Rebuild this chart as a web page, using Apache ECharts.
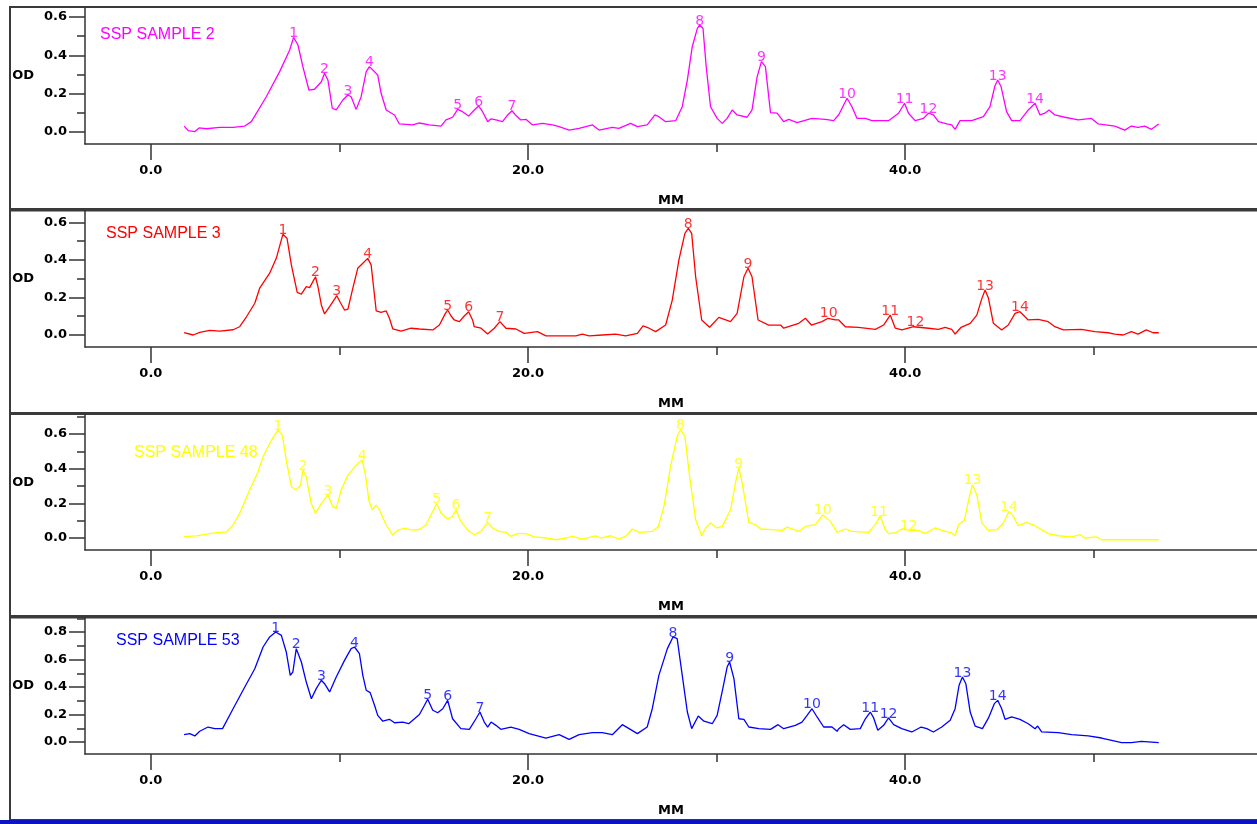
<!DOCTYPE html>
<html>
<head>
<meta charset="utf-8">
<script src="https://cdn.jsdelivr.net/npm/echarts/dist/echarts.min.js"></script>
<style>
html,body{margin:0;padding:0;background:#fff;}
#chart{width:1257px;height:824px;}
</style>
</head>
<body>
<div id="chart"></div>
<script>
// ---------- DATA (MM, OD) ----------
const sampleNames = ['SSP SAMPLE 2', 'SSP SAMPLE 3', 'SSP SAMPLE 48', 'SSP SAMPLE 53'];
const peakLabels = ['1','2','3','4','5','6','7','8','9','10','11','12','13','14'];
const xTickValues = [0, 20, 40];
const xMinorTickValues = [10, 30, 50];

const sample2 = [[1.76,0.031],[1.98,0.007],[2.33,0.002],[2.56,0.021],[2.95,0.017],[3.65,0.024],[4.36,0.024],[4.98,0.031],[5.33,0.054],[6.12,0.184],[6.83,0.315],[7.36,0.428],[7.57,0.494],[7.80,0.454],[8.06,0.341],[8.38,0.219],[8.68,0.223],[9.04,0.262],[9.21,0.306],[9.39,0.271],[9.62,0.124],[9.83,0.115],[10.18,0.167],[10.45,0.193],[10.62,0.184],[10.89,0.118],[11.15,0.184],[11.42,0.315],[11.59,0.341],[12.03,0.297],[12.21,0.202],[12.48,0.115],[12.92,0.089],[13.18,0.042],[13.89,0.037],[14.24,0.047],[14.77,0.037],[15.39,0.031],[15.65,0.063],[16.00,0.077],[16.27,0.118],[16.53,0.106],[16.85,0.083],[17.15,0.115],[17.38,0.136],[17.59,0.106],[17.86,0.054],[18.04,0.069],[18.30,0.063],[18.65,0.054],[18.92,0.089],[19.15,0.111],[19.39,0.083],[19.62,0.063],[19.89,0.066],[20.24,0.037],[20.77,0.045],[21.30,0.037],[21.65,0.028],[22.18,0.010],[22.71,0.019],[23.42,0.037],[23.77,0.010],[24.47,0.024],[24.82,0.019],[25.44,0.045],[25.80,0.028],[26.32,0.037],[26.73,0.089],[26.94,0.080],[27.30,0.054],[27.83,0.059],[28.18,0.132],[28.45,0.271],[28.71,0.445],[28.98,0.541],[29.10,0.558],[29.28,0.541],[29.45,0.341],[29.68,0.132],[30.03,0.071],[30.30,0.045],[30.56,0.071],[30.83,0.115],[31.09,0.089],[31.62,0.077],[31.88,0.115],[32.15,0.288],[32.38,0.367],[32.59,0.341],[32.86,0.101],[33.21,0.098],[33.56,0.054],[33.83,0.066],[34.27,0.049],[35.06,0.071],[35.77,0.066],[36.21,0.059],[36.48,0.090],[36.92,0.176],[37.18,0.132],[37.45,0.071],[37.89,0.071],[38.24,0.059],[39.12,0.059],[39.65,0.098],[39.97,0.150],[40.18,0.098],[40.53,0.059],[40.97,0.071],[41.24,0.098],[41.50,0.089],[41.77,0.054],[42.21,0.042],[42.47,0.037],[42.65,0.014],[42.91,0.059],[43.53,0.059],[44.15,0.080],[44.50,0.132],[44.76,0.240],[44.91,0.271],[45.09,0.236],[45.38,0.106],[45.65,0.059],[46.09,0.059],[46.53,0.115],[46.89,0.150],[47.15,0.089],[47.41,0.098],[47.63,0.115],[47.94,0.089],[48.47,0.077],[49.18,0.063],[49.88,0.071],[50.24,0.042],[51.12,0.031],[51.65,0.010],[52.00,0.031],[52.35,0.024],[52.71,0.031],[53.06,0.014],[53.45,0.042]];

const sample3 = [[1.76,0.012],[2.24,0.000],[2.59,0.014],[3.12,0.025],[3.65,0.021],[4.36,0.028],[4.71,0.044],[5.07,0.097],[5.51,0.169],[5.77,0.249],[6.30,0.329],[6.65,0.408],[6.92,0.506],[7.00,0.536],[7.22,0.515],[7.45,0.373],[7.76,0.227],[7.98,0.217],[8.24,0.257],[8.42,0.252],[8.59,0.284],[8.73,0.310],[8.86,0.257],[9.04,0.160],[9.21,0.112],[9.48,0.151],[9.86,0.209],[10.04,0.174],[10.27,0.133],[10.45,0.138],[10.71,0.249],[10.97,0.355],[11.24,0.382],[11.50,0.408],[11.68,0.373],[11.95,0.128],[12.21,0.121],[12.48,0.128],[12.65,0.089],[12.83,0.032],[13.27,0.021],[13.80,0.036],[14.24,0.032],[14.95,0.027],[15.30,0.053],[15.62,0.115],[15.74,0.133],[15.92,0.101],[16.09,0.080],[16.36,0.071],[16.62,0.101],[16.85,0.124],[17.06,0.080],[17.15,0.044],[17.51,0.036],[17.86,0.005],[18.21,0.036],[18.51,0.071],[18.83,0.036],[19.36,0.032],[19.80,0.009],[20.50,0.018],[20.95,-0.005],[21.65,-0.005],[22.54,-0.005],[22.88,0.005],[23.24,-0.005],[23.94,0.000],[24.65,0.005],[25.18,-0.005],[25.80,0.009],[26.10,0.048],[26.42,0.036],[26.77,0.018],[27.30,0.053],[27.65,0.186],[28.00,0.399],[28.32,0.541],[28.50,0.568],[28.68,0.541],[28.89,0.310],[29.21,0.080],[29.63,0.041],[30.12,0.094],[30.74,0.071],[31.09,0.115],[31.45,0.310],[31.67,0.355],[31.88,0.310],[32.20,0.080],[32.77,0.053],[33.39,0.053],[33.56,0.036],[34.36,0.062],[34.71,0.089],[35.03,0.053],[35.59,0.071],[35.91,0.089],[36.30,0.080],[36.48,0.080],[36.83,0.044],[37.53,0.041],[38.42,0.030],[38.86,0.053],[39.21,0.106],[39.48,0.036],[39.83,0.027],[40.45,0.044],[41.24,0.036],[41.77,0.030],[42.12,0.041],[42.47,0.030],[42.65,0.005],[42.97,0.041],[43.45,0.062],[43.80,0.106],[44.07,0.195],[44.24,0.240],[44.42,0.195],[44.68,0.062],[45.12,0.027],[45.47,0.053],[45.83,0.115],[46.09,0.124],[46.53,0.080],[47.06,0.083],[47.59,0.071],[47.94,0.044],[48.39,0.027],[49.35,0.030],[50.06,0.018],[50.77,0.012],[51.12,0.005],[51.56,0.000],[52.00,0.018],[52.35,0.005],[52.79,0.027],[53.15,0.012],[53.45,0.012]];

const sample48 = [[1.76,0.008],[2.42,0.012],[2.95,0.023],[3.48,0.031],[4.01,0.036],[4.36,0.075],[4.71,0.143],[5.24,0.277],[5.68,0.383],[5.95,0.469],[6.30,0.546],[6.56,0.594],[6.74,0.623],[6.97,0.594],[7.18,0.450],[7.45,0.296],[7.71,0.277],[7.94,0.306],[8.06,0.392],[8.24,0.354],[8.50,0.200],[8.73,0.143],[9.04,0.200],[9.39,0.248],[9.65,0.181],[9.83,0.171],[10.09,0.277],[10.45,0.363],[10.89,0.421],[11.21,0.450],[11.38,0.363],[11.56,0.219],[11.74,0.162],[11.95,0.190],[12.12,0.162],[12.48,0.075],[12.83,0.017],[13.09,0.046],[13.45,0.056],[13.89,0.046],[14.24,0.049],[14.59,0.077],[14.95,0.154],[15.16,0.198],[15.39,0.144],[15.74,0.110],[16.00,0.125],[16.18,0.163],[16.44,0.096],[16.79,0.048],[17.15,0.019],[17.51,0.038],[17.86,0.090],[18.12,0.058],[18.48,0.038],[18.83,0.033],[19.09,0.010],[19.44,0.025],[19.89,0.025],[20.33,0.006],[20.95,0.000],[21.48,-0.010],[22.01,0.000],[22.36,0.010],[22.88,-0.006],[23.59,0.013],[23.86,0.000],[24.39,0.013],[24.83,-0.006],[25.22,0.013],[25.53,0.052],[25.89,0.033],[26.59,0.038],[26.91,0.067],[27.21,0.183],[27.56,0.414],[27.91,0.587],[28.09,0.625],[28.32,0.587],[28.57,0.356],[28.89,0.106],[29.21,0.013],[29.42,0.058],[29.68,0.087],[30.03,0.058],[30.30,0.067],[30.74,0.163],[31.00,0.317],[31.18,0.404],[31.36,0.317],[31.71,0.090],[32.07,0.077],[32.33,0.052],[32.94,0.048],[33.47,0.044],[33.74,0.063],[34.36,0.038],[34.71,0.067],[35.24,0.077],[35.63,0.134],[36.04,0.096],[36.39,0.033],[36.48,0.044],[36.83,0.052],[37.18,0.038],[38.06,0.033],[38.42,0.077],[38.68,0.129],[38.94,0.048],[39.12,0.025],[39.47,0.029],[39.82,0.052],[40.27,0.044],[40.71,0.044],[41.06,0.025],[41.59,0.058],[41.94,0.044],[42.47,0.029],[42.65,0.013],[42.83,0.077],[43.14,0.102],[43.39,0.231],[43.57,0.308],[43.80,0.250],[44.07,0.087],[44.42,0.044],[44.86,0.048],[45.21,0.087],[45.51,0.154],[45.74,0.125],[46.00,0.071],[46.44,0.090],[46.89,0.071],[47.59,0.025],[48.12,0.013],[48.83,0.006],[49.27,0.019],[49.53,0.000],[50.15,0.006],[50.42,-0.010],[53.45,-0.010]];

const sample53 = [[1.76,0.053],[2.06,0.061],[2.33,0.044],[2.59,0.078],[3.03,0.109],[3.39,0.097],[3.80,0.097],[4.36,0.242],[4.98,0.400],[5.51,0.533],[5.95,0.691],[6.30,0.764],[6.62,0.800],[6.92,0.776],[7.18,0.655],[7.39,0.485],[7.53,0.509],[7.71,0.679],[7.98,0.582],[8.24,0.436],[8.51,0.315],[8.77,0.388],[9.04,0.449],[9.21,0.424],[9.48,0.364],[9.83,0.473],[10.27,0.594],[10.62,0.679],[10.80,0.691],[11.06,0.642],[11.24,0.485],[11.42,0.376],[11.63,0.359],[11.86,0.267],[12.03,0.194],[12.30,0.151],[12.65,0.165],[12.92,0.140],[13.36,0.145],[13.67,0.133],[13.98,0.169],[14.24,0.200],[14.51,0.267],[14.68,0.311],[14.95,0.231],[15.21,0.213],[15.48,0.242],[15.74,0.303],[16.00,0.169],[16.44,0.097],[16.89,0.092],[17.24,0.169],[17.45,0.218],[17.68,0.145],[17.86,0.109],[18.04,0.145],[18.30,0.121],[18.56,0.092],[19.09,0.109],[19.53,0.092],[20.06,0.061],[20.95,0.029],[21.65,0.053],[22.18,0.019],[22.71,0.053],[23.42,0.068],[23.94,0.068],[24.47,0.053],[25.00,0.126],[25.36,0.097],[25.80,0.061],[26.32,0.109],[26.59,0.242],[26.94,0.485],[27.39,0.679],[27.69,0.764],[27.91,0.752],[28.18,0.485],[28.45,0.218],[28.68,0.097],[29.03,0.189],[29.33,0.151],[29.77,0.133],[30.03,0.194],[30.33,0.388],[30.56,0.545],[30.69,0.582],[30.92,0.461],[31.18,0.169],[31.45,0.165],[31.71,0.109],[32.24,0.097],[32.86,0.092],[33.26,0.126],[33.56,0.097],[34.18,0.121],[34.53,0.145],[34.80,0.194],[35.06,0.242],[35.33,0.182],[35.68,0.109],[36.12,0.109],[36.39,0.078],[36.48,0.097],[36.74,0.126],[37.09,0.092],[37.62,0.097],[37.89,0.169],[38.15,0.218],[38.33,0.175],[38.55,0.085],[38.86,0.121],[39.12,0.175],[39.39,0.126],[39.82,0.097],[40.35,0.073],[40.85,0.109],[41.15,0.097],[41.50,0.073],[41.94,0.109],[42.39,0.158],[42.65,0.242],[42.86,0.412],[43.04,0.473],[43.22,0.424],[43.45,0.218],[43.71,0.116],[44.10,0.097],[44.42,0.175],[44.73,0.279],[44.91,0.303],[45.12,0.242],[45.30,0.165],[45.65,0.182],[46.09,0.165],[46.53,0.133],[46.89,0.097],[47.03,0.116],[47.24,0.073],[48.12,0.068],[48.83,0.053],[49.71,0.044],[50.42,0.029],[50.95,0.012],[51.48,-0.005],[52.00,-0.005],[52.53,0.005],[53.45,-0.005]];

// peak positions (MM, OD), labelled 1..14
const peaks2 = [[7.57,0.494],[9.21,0.306],[10.45,0.193],[11.59,0.341],[16.27,0.118],[17.38,0.136],[19.15,0.111],[29.10,0.558],[32.38,0.367],[36.92,0.176],[39.97,0.150],[41.24,0.098],[44.91,0.271],[46.89,0.150]];
const peaks3 = [[7.00,0.536],[8.73,0.310],[9.86,0.209],[11.50,0.408],[15.74,0.133],[16.85,0.124],[18.51,0.071],[28.50,0.568],[31.67,0.355],[35.95,0.095],[39.21,0.106],[40.55,0.044],[44.24,0.240],[46.09,0.124]];
const peaks48 = [[6.74,0.623],[8.06,0.392],[9.39,0.248],[11.21,0.450],[15.16,0.198],[16.18,0.163],[17.86,0.090],[28.09,0.625],[31.18,0.404],[35.63,0.134],[38.62,0.125],[40.18,0.045],[43.57,0.308],[45.51,0.154]];
const peaks53 = [[6.62,0.800],[7.71,0.679],[9.04,0.449],[10.80,0.691],[14.68,0.311],[15.74,0.303],[17.45,0.218],[27.69,0.764],[30.69,0.582],[35.06,0.242],[38.15,0.218],[39.12,0.175],[43.04,0.473],[44.91,0.303]];

// y tick values per panel
const yTicks = [[0,0.2,0.4,0.6],[0,0.2,0.4,0.6],[0,0.2,0.4,0.6],[0,0.2,0.4,0.6,0.8]];
const yMinorTicks = [[0.1,0.3,0.5],[0.1,0.3,0.5],[0.1,0.3,0.5,0.7],[0.1,0.3,0.5,0.7,0.9]];
const yRanges = [[-0.0626,0.647],[-0.0639,0.660],[-0.0692,0.710],[-0.0873,0.902]];
const xRange = [-3.494, 58.66];

// ---------- LAYOUT / STYLE ----------
const seriesData = [sample2, sample3, sample48, sample53];
const peakData = [peaks2, peaks3, peaks48, peaks53];
const colors = ['#ff00ff', '#ff0000', '#ffff00', '#0000ff'];
const gridTops = [8, 211, 415, 618];
const gridHeights = [136, 136, 135, 136];
const titlePos = [[100, 27], [106, 226], [134, 445], [116, 633]];
const frames = [[7, 202], [210.5, 202.5], [414, 202], [617.5, 202.5]];

const axisColor = '#333';
const tickFont = {color: '#000', fontFamily: 'DejaVu Sans', fontWeight: 'bold', fontSize: 13};

const grids = [], xAxes = [], yAxes = [], series = [], titles = [], graphics = [];
for (let k = 0; k < 4; k++) {
  grids.push({left: 85, right: -2, top: gridTops[k], height: gridHeights[k], containLabel: false});
  xAxes.push({
    gridIndex: k, type: 'value', min: xRange[0], max: xRange[1], position: 'bottom',
    axisLine: {show: true, onZero: false, lineStyle: {color: axisColor, width: 1.5}},
    axisTick: {show: true, customValues: xTickValues, length: 16, lineStyle: {color: axisColor, width: 1.5}},
    axisLabel: Object.assign({customValues: xTickValues, formatter: v => v.toFixed(1), margin: 20}, tickFont),
    splitLine: {show: false},
    name: 'MM', nameLocation: 'middle', nameGap: 50,
    nameTextStyle: {color: '#000', fontFamily: 'DejaVu Sans', fontWeight: 'bold', fontSize: 13}
  });
  xAxes.push({
    gridIndex: k, type: 'value', min: xRange[0], max: xRange[1], position: 'bottom',
    axisLine: {show: false, onZero: false},
    axisTick: {show: true, customValues: xMinorTickValues, length: 8, lineStyle: {color: axisColor, width: 1.5}},
    axisLabel: {show: false}, splitLine: {show: false}
  });
  yAxes.push({
    gridIndex: k, type: 'value', min: yRanges[k][0], max: yRanges[k][1], position: 'left',
    axisLine: {show: true, onZero: false, lineStyle: {color: axisColor, width: 1.5}},
    axisTick: {show: true, customValues: yTicks[k], length: 16, lineStyle: {color: axisColor, width: 1.5}},
    axisLabel: Object.assign({customValues: yTicks[k], formatter: v => v.toFixed(1), margin: 18}, tickFont),
    splitLine: {show: false},
    name: 'OD', nameLocation: 'middle', nameRotate: 0, nameGap: 51,
    nameTextStyle: {color: '#000', fontFamily: 'DejaVu Sans', fontWeight: 'bold', fontSize: 13}
  });
  yAxes.push({
    gridIndex: k, type: 'value', min: yRanges[k][0], max: yRanges[k][1], position: 'left',
    axisLine: {show: false, onZero: false},
    axisTick: {show: true, customValues: yMinorTicks[k], length: 8, lineStyle: {color: axisColor, width: 1.5}},
    axisLabel: {show: false}, splitLine: {show: false}
  });
  series.push({
    type: 'line', xAxisIndex: 2 * k, yAxisIndex: 2 * k, data: seriesData[k],
    showSymbol: false, symbol: 'none', smooth: false,
    lineStyle: {color: colors[k], width: 1.3}, itemStyle: {color: colors[k]}, z: 3
  });
  series.push({
    type: 'scatter', xAxisIndex: 2 * k, yAxisIndex: 2 * k, data: peakData[k],
    symbolSize: 1, itemStyle: {color: 'rgba(0,0,0,0)'}, z: 4,
    label: {
      show: true, position: 'inside', offset: [0, -4],
      formatter: p => peakLabels[p.dataIndex],
      color: colors[k], fontFamily: 'DejaVu Sans', fontSize: 14
    }
  });
  titles.push({
    text: sampleNames[k], left: titlePos[k][0], top: titlePos[k][1], padding: 0,
    textStyle: {color: colors[k], fontFamily: 'Liberation Sans', fontWeight: 'normal', fontSize: 16}
  });
  graphics.push({
    type: 'rect', silent: true, z: 0,
    shape: {x: 10, y: frames[k][0], width: 1400, height: frames[k][1]},
    style: {fill: 'none', stroke: '#3a3a3a', lineWidth: 2}
  });
}
graphics.push({
  type: 'rect', silent: true, z: 10,
  shape: {x: 0, y: 820, width: 1257, height: 4},
  style: {fill: '#0a14c0'}
});

const chart = echarts.init(document.getElementById('chart'), null, {renderer: 'canvas'});
chart.setOption({
  animation: false,
  backgroundColor: '#ffffff',
  title: titles,
  grid: grids,
  xAxis: xAxes,
  yAxis: yAxes,
  series: series,
  graphic: graphics
});
</script>
</body>
</html>
